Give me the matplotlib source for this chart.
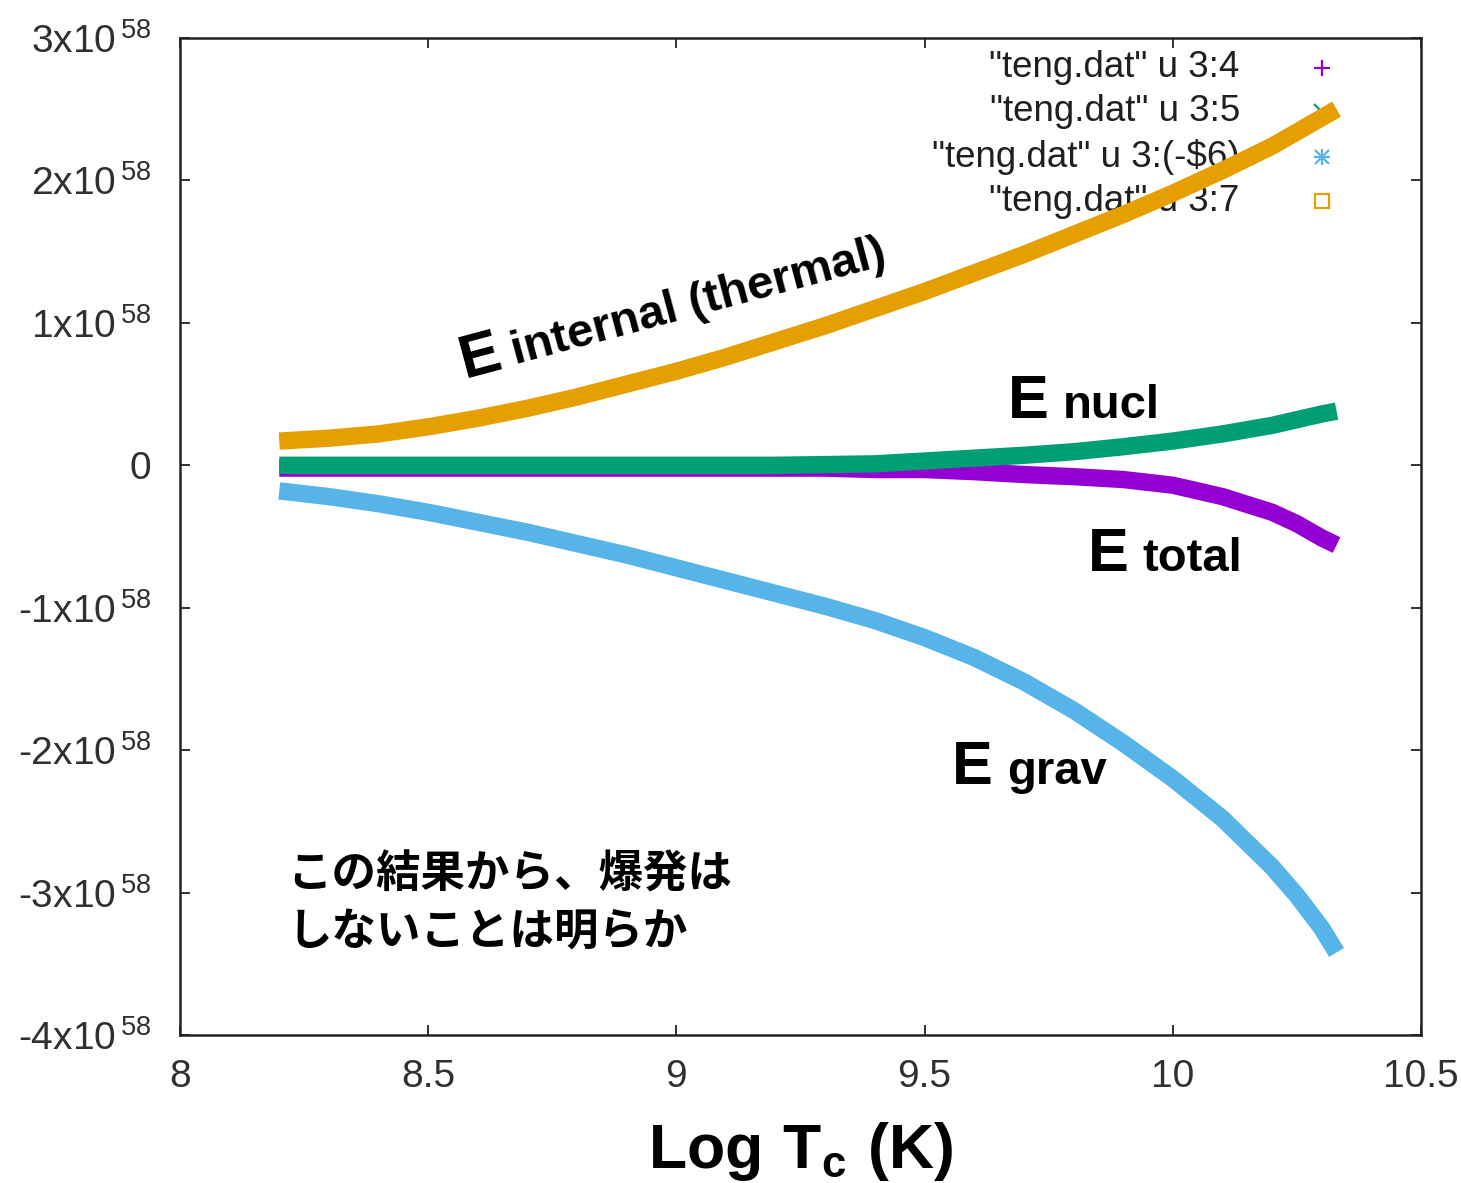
import matplotlib
matplotlib.use("Agg")
import matplotlib.pyplot as plt
from matplotlib.ticker import FixedLocator, FuncFormatter

plt.rcParams["font.family"] = ["Liberation Sans", "DejaVu Sans"]
plt.rcParams["mathtext.fontset"] = "custom"
plt.rcParams["mathtext.rm"] = "Liberation Sans"
plt.rcParams["mathtext.bf"] = "Liberation Sans:bold"
plt.rcParams["mathtext.default"] = "regular"

# Energies in units of 1e58 erg versus log of central temperature
SCALE = 1e58
log_tc = [8.2, 8.3, 8.4, 8.5, 8.6, 8.7, 8.8, 8.9, 9.0, 9.1, 9.2, 9.3,
          9.4, 9.5, 9.6, 9.7, 9.8, 9.9, 10.0, 10.1, 10.2, 10.25, 10.3, 10.33]
e_total = [-0.02, -0.02, -0.02, -0.02, -0.02, -0.02, -0.02, -0.02, -0.02, -0.02,
           -0.02, -0.02, -0.03, -0.03, -0.045, -0.065, -0.08, -0.10, -0.14, -0.22,
           -0.33, -0.41, -0.51, -0.56]
e_nucl = [0.0, 0.0, 0.0, 0.0, 0.0, 0.0, 0.0, 0.0, 0.0, 0.0, 0.0, 0.005,
          0.01, 0.03, 0.05, 0.07, 0.095, 0.13, 0.17, 0.22, 0.28, 0.32, 0.36, 0.38]
e_grav = [-0.18, -0.22, -0.27, -0.33, -0.40, -0.47, -0.55, -0.63, -0.72, -0.81,
          -0.90, -0.99, -1.09, -1.21, -1.35, -1.52, -1.72, -1.95, -2.20, -2.48,
          -2.82, -3.02, -3.25, -3.42]
e_internal = [0.17, 0.19, 0.22, 0.27, 0.33, 0.40, 0.48, 0.57, 0.66, 0.76, 0.87,
              0.98, 1.10, 1.22, 1.35, 1.48, 1.62, 1.76, 1.91, 2.07, 2.24, 2.34,
              2.44, 2.50]

series_keys = ['"teng.dat" u 3:4', '"teng.dat" u 3:5',
               '"teng.dat" u 3:(-$6)', '"teng.dat" u 3:7']
series_colors = ["#9400d3", "#009e73", "#56b4e9", "#e69f00"]
series_markers = [["+"], ["x"], ["+", "x"], ["s"]]

x_ticks = [8, 8.5, 9, 9.5, 10, 10.5]
x_tick_labels = ["8", "8.5", "9", "9.5", "10", "10.5"]
y_ticks = [-4, -3, -2, -1, 0, 1, 2, 3]

fig = plt.figure(figsize=(14.61, 11.83), dpi=100)
ax = fig.add_axes([0.1232, 0.1251, 0.8494, 0.8428])

curves = [e_total, e_nucl, e_grav, e_internal]
for i, (vals, col) in enumerate(zip(curves, series_colors)):
    ax.plot(log_tc, [v * SCALE for v in vals], color=col, lw=12.5,
            solid_capstyle="butt", solid_joinstyle="round", zorder=3 + i)

ax.set_xlim(8, 10.5)
ax.set_ylim(-4 * SCALE, 3 * SCALE)

ax.xaxis.set_major_locator(FixedLocator(x_ticks))
ax.set_xticklabels(x_tick_labels)
ax.yaxis.set_major_locator(FixedLocator([v * SCALE for v in y_ticks]))


def y_fmt(v, pos):
    n = int(round(v / SCALE))
    if n == 0:
        return "0"
    return f"{n}x10$^{{\\,58}}$"


ax.yaxis.set_major_formatter(FuncFormatter(y_fmt))
ax.tick_params(axis="both", direction="in", length=7, width=1.3,
               top=True, right=True, labelsize=28, labelcolor="#303030",
               color="#222222")
ax.tick_params(axis="x", pad=17)
ax.tick_params(axis="y", pad=21)
for sp in ax.spines.values():
    sp.set_linewidth(1.8)
    sp.set_color("#222222")

# Key: right-aligned titles with sample symbols, drawn beneath the curves
key_rows = [0.970, 0.926, 0.881, 0.836]
for key, col, mks, yy in zip(series_keys, series_colors, series_markers, key_rows):
    ax.text(0.854, yy, key, transform=ax.transAxes, ha="right", va="center",
            fontsize=26.5, color="#202020", zorder=1)
    for mk in mks:
        ax.plot([0.920], [yy], transform=ax.transAxes, marker=mk,
                ms=(10 if mk == "x" and len(mks) > 1 else 12) if mk != "s" else 10,
                mew=1.6, color=col, mfc="none", ls="none", zorder=2, clip_on=False)

# Curve annotations
ax.text(8.574, 0.611 * SCALE, "E", fontsize=44, fontweight="bold",
        rotation=15, rotation_mode="anchor", ha="left", va="baseline", zorder=10)
ax.text(8.675, 0.709 * SCALE, "internal (thermal)", fontsize=34, fontweight="bold",
        rotation=15, rotation_mode="anchor", ha="left", va="baseline", zorder=10)

for ex, sx, yy, word in [(9.668, 9.779, 0.330, "nucl"),
                         (9.829, 9.938, -0.744, "total"),
                         (9.555, 9.666, -2.240, "grav")]:
    ax.text(ex, yy * SCALE, "E", fontsize=44, fontweight="bold",
            ha="left", va="baseline", zorder=10)
    ax.text(sx, yy * SCALE, word, fontsize=34, fontweight="bold",
            ha="left", va="baseline", zorder=10)

jp_font = ["Noto Sans CJK JP", "DejaVu Sans"]
ax.text(8.216, -2.872 * SCALE, "この結果から、爆発は", fontsize=32,
        fontweight="bold", family=jp_font, ha="left", va="center", zorder=10)
ax.text(8.216, -3.272 * SCALE, "しないことは明らか", fontsize=32,
        fontweight="bold", family=jp_font, ha="left", va="center", zorder=10)

ax.set_xlabel(r"$\mathbf{Log\ T_c\ (K)}$", fontsize=45, labelpad=18)

fig.savefig("out.png", dpi=100)
